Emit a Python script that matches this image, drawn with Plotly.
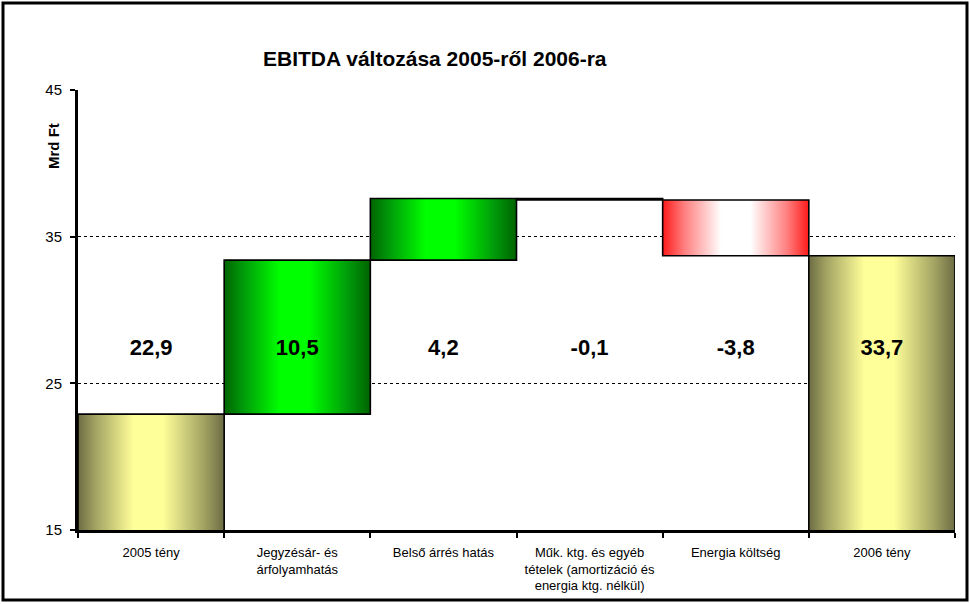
import plotly.graph_objects as go

# ---- data ----
categories = [
    "2005 tény",
    "Jegyzésár- és<br>árfolyamhatás",
    "Belső árrés hatás",
    "Műk. ktg. és egyéb<br>tételek (amortizáció és<br>energia ktg. nélkül)",
    "Energia költség",
    "2006 tény",
]
start_value = 22.9
deltas = [10.5, 4.2, -0.1, -3.8]
end_value = 33.7
label_values = [22.9, 10.5, 4.2, -0.1, -3.8, 33.7]
y_ticks = [15, 25, 35, 45]

# ---- styles ----
FONT = "Liberation Sans, Arial, sans-serif"
yellow = [[0, "#6c6c44"], [0.12, "#a3a363"], [0.38, "#ffff99"], [0.58, "#ffff99"],
          [0.86, "#a3a363"], [1, "#6c6c44"]]
green = [[0, "#006400"], [0.12, "#00960a"], [0.38, "#00ff00"], [0.58, "#00ff00"],
         [0.86, "#00960a"], [1, "#006400"]]
red = [[0, "#ff1a1a"], [0.15, "#ff8080"], [0.4, "#ffffff"], [0.6, "#ffffff"],
       [0.85, "#ff8080"], [1, "#ff1a1a"]]
styles = [yellow, green, green, None, red, yellow]

# compute bar bases/tops from data
bases, tops = [], []
bases.append(0.0)
tops.append(start_value)
level = start_value
for d in deltas:
    bases.append(level)
    level = round(level + d, 4)
    tops.append(level)
bases.append(0.0)
tops.append(end_value)

fig = go.Figure()
for i, (b, t, cs) in enumerate(zip(bases, tops, styles)):
    xs = [i - 0.5, i + 0.5, i + 0.5, i - 0.5, i - 0.5]
    ys = [b, b, t, t, b]
    kw = dict(x=xs, y=ys, mode="lines", fill="toself",
              line=dict(color="black", width=1.6),
              hoverinfo="skip", showlegend=False)
    if cs is None:
        kw["fillcolor"] = "white"
    else:
        kw["fillgradient"] = dict(type="horizontal", colorscale=cs)
    fig.add_trace(go.Scatter(**kw))

label_y = 27.3
fig.add_trace(go.Scatter(
    x=list(range(len(categories))),
    y=[label_y] * len(categories),
    mode="text",
    text=[f"{v:.1f}".replace(".", ",") for v in label_values],
    textfont=dict(family=FONT, size=22, color="black", weight="bold"),
    hoverinfo="skip", showlegend=False,
))

L, R, T, B = 78, 15, 90, 74
W, H = 970, 604
pw, ph = W - L - R, H - T - B

def px_x(px):
    return (px - L) / pw

def px_y(py):
    return (H - B - py) / ph

fig.update_layout(
    width=W, height=H,
    margin=dict(l=L, r=R, t=T, b=B),
    paper_bgcolor="white", plot_bgcolor="white",
    font=dict(family=FONT, color="black"),
    showlegend=False,
    xaxis=dict(
        range=[-0.5, len(categories) - 0.5],
        tickvals=list(range(len(categories))),
        ticktext=categories,
        ticks="outside", ticklen=8, tickcolor="rgba(0,0,0,0)",
        tickfont=dict(family=FONT, size=13, color="black"),
        showgrid=False, zeroline=False, automargin=False,
        showline=True, linecolor="black", linewidth=3,
        minor=dict(tickvals=[i - 0.5 for i in range(len(categories) + 1)],
                   ticks="outside", ticklen=5, tickwidth=2, tickcolor="black",
                   showgrid=False),
        fixedrange=True,
    ),
    yaxis=dict(
        range=[y_ticks[0], y_ticks[-1]],
        tickvals=y_ticks,
        ticks="outside", ticklen=5, tickwidth=2, tickcolor="black",
        ticklabelstandoff=5, automargin=False,
        tickfont=dict(family=FONT, size=15, color="black"),
        showgrid=True, gridcolor="black", gridwidth=1, griddash="3px,3px",
        zeroline=False,
        showline=True, linecolor="black", linewidth=3,
        fixedrange=True,
    ),
    shapes=[dict(type="rect", xref="paper", yref="paper",
                 x0=px_x(3), x1=px_x(967), y0=px_y(600), y1=px_y(3),
                 line=dict(color="black", width=3), fillcolor="rgba(0,0,0,0)")],
    annotations=[
        dict(text="EBITDA változása 2005-ről 2006-ra", xref="paper", yref="paper",
             x=px_x(435), y=px_y(59), xanchor="center", yanchor="middle",
             showarrow=False, font=dict(family=FONT, size=21, color="black", weight="bold")),
        dict(text="Mrd Ft", xref="paper", yref="paper",
             x=px_x(53), y=px_y(146), xanchor="center", yanchor="middle", textangle=-90,
             showarrow=False, font=dict(family=FONT, size=15, color="black", weight="bold")),
    ],
)

fig.write_html("out.html")
